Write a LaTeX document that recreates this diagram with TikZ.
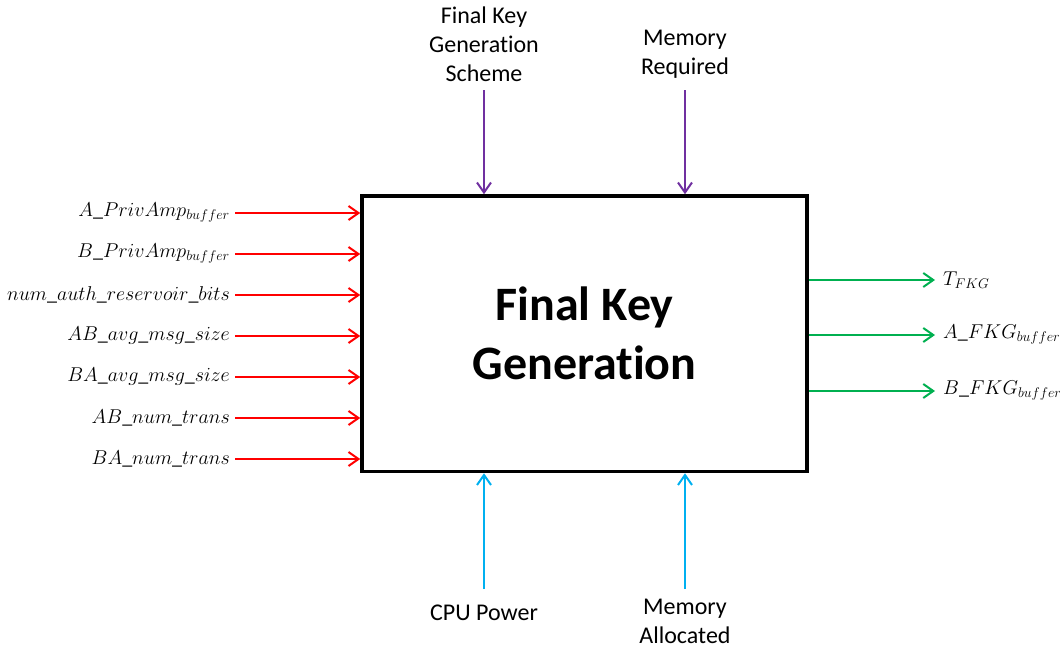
\RequirePackage{fix-cm}
\documentclass[tikz,border=0pt]{standalone}
\usepackage{fontspec}
\setmainfont{Carlito}[Ligatures=NoCommon]
\usetikzlibrary{arrows.meta}
\definecolor{inred}{RGB}{255,0,0}
\definecolor{outgreen}{RGB}{0,176,80}
\definecolor{ctrlpurple}{RGB}{112,48,160}
\definecolor{mechcyan}{RGB}{0,176,240}
\begin{document}
\begin{tikzpicture}[x=1pt,y=-1pt,
  flow/.style={line width=2pt,-{Straight Barb[length=10pt,width=14pt,line width=2pt]}},
  lbl/.style={font=\fontsize{20}{22}\selectfont,inner sep=0pt},
  toplbl/.style={font=\fontsize{24}{29}\selectfont,align=center,inner sep=0pt},
  mainbox/.style={draw=black,line width=3.5pt,minimum width=445pt,minimum height=275.5pt,
    font=\fontsize{48}{59}\selectfont\bfseries,align=center,inner sep=0pt}]
\useasboundingbox (0,0) rectangle (1060,651);
\node[mainbox] (fkg) at (584.5,333.75) {Final Key\\Generation};
% left inputs
\foreach \i/\yy/\txt in {
  a/213/{A\_PrivAmp_{buffer}},
  b/254/{B\_PrivAmp_{buffer}},
  c/295/{num\_auth\_reservoir\_bits},
  d/336/{AB\_avg\_msg\_size},
  e/377/{BA\_avg\_msg\_size},
  f/418/{AB\_num\_trans},
  g/459/{BA\_num\_trans}}{
  \coordinate (in\i) at (235,\yy);
  \node[lbl,anchor=east] (l\i) at (230,\yy) {$\txt$};
  \draw[flow,inred] (in\i) -- (fkg.west |- in\i);
}
% right outputs
\foreach \i/\yy/\txt in {
  a/280/{T_{FKG}},
  b/335/{A\_FKG_{buffer}},
  c/391/{B\_FKG_{buffer}}}{
  \coordinate (out\i) at (935,\yy);
  \node[lbl,anchor=west] (r\i) at (943,\yy) {$\txt$};
  \draw[flow,outgreen] (fkg.east |- out\i) -- (out\i);
}
% top controls
\node[toplbl] (scheme) at (484,44) {Final Key\\Generation\\Scheme};
\node[toplbl] (memreq) at (685,54) {Memory\\Required};
\coordinate (cs) at (484,90);
\coordinate (cm) at (685,90);
\draw[flow,ctrlpurple] (cs) -- (fkg.north -| cs);
\draw[flow,ctrlpurple] (cm) -- (fkg.north -| cm);
% bottom mechanisms
\node[toplbl] (cpu) at (484,613) {CPU Power};
\node[toplbl] (memalloc) at (685,621) {Memory\\Allocated};
\coordinate (mc) at (484,589);
\coordinate (mm) at (685,589);
\draw[flow,mechcyan] (mc) -- (fkg.south -| mc);
\draw[flow,mechcyan] (mm) -- (fkg.south -| mm);
\end{tikzpicture}
\end{document}
